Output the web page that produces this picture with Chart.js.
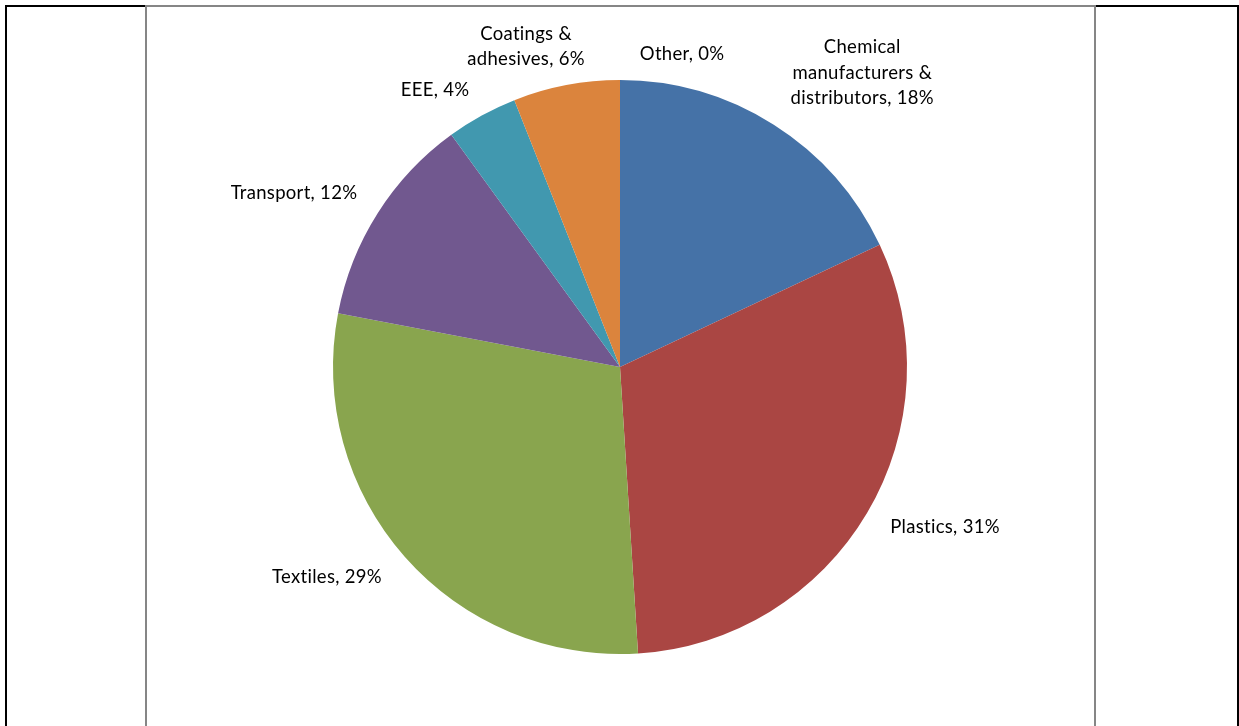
<!DOCTYPE html>
<html>
<head>
<meta charset="utf-8">
<title>Use by sector</title>
<script src="https://cdn.jsdelivr.net/npm/chart.js@4.4.1/dist/chart.umd.min.js"></script>
<style>
  html, body { margin: 0; padding: 0; background: #ffffff; }
  #wrap { position: relative; width: 1239px; height: 726px; overflow: hidden; }
  #chart { position: absolute; left: 0; top: 0; }
  .rule { position: absolute; }
  .black { background: #000000; }
  .grey { background: #868686; }
</style>
</head>
<body>
<div id="wrap">
  <canvas id="chart" width="1239" height="726"></canvas>
  <!-- table frame around the chart cell -->
  <div class="rule black" style="left:5px; top:5px; width:2px; height:721px;"></div>
  <div class="rule black" style="left:5px; top:5px; width:141px; height:2px;"></div>
  <div class="rule black" style="left:1094px; top:5px; width:145px; height:2px;"></div>
  <div class="rule black" style="left:1237px; top:5px; width:2px; height:721px;"></div>
  <div class="rule grey" style="left:145px; top:5px; width:951px; height:2px;"></div>
  <div class="rule grey" style="left:145px; top:5px; width:2px; height:721px;"></div>
  <div class="rule grey" style="left:1094px; top:5px; width:2px; height:721px;"></div>
</div>
<script>
// Sector names (label lines) and their shares in percent
const sectorLines = [
  ["Chemical", "manufacturers &", "distributors, 18%"],
  ["Plastics, 31%"],
  ["Textiles, 29%"],
  ["Transport, 12%"],
  ["EEE, 4%"],
  ["Coatings &", "adhesives, 6%"],
  ["Other, 0%"]
];
const sectors = ["Chemical manufacturers & distributors", "Plastics", "Textiles", "Transport", "EEE", "Coatings & adhesives", "Other"];
const shares = [18, 31, 29, 12, 4, 6, 0];

// Slice fills
const sliceColors = ["#4572A7", "#AA4643", "#89A54E", "#71588F", "#4198AF", "#DB843D", "#93A9CF"];

// Label placement around the pie: angular shift (degrees) from the slice's mid-angle
// and distance from the centre as a multiple of the pie radius
const labelShift = [7.0, -4.5, 5.9, -4.2, -4.9, -5.5, 11.2];
const labelReach = [1.330, 1.261, 1.254, 1.289, 1.161, 1.166, 1.115];

const LABEL_FONT = '18.5px Lato, "Open Sans", sans-serif';
const LINE_HEIGHT = 25.5;
const CAP_HALF = 6.7;

const outsideLabels = {
  id: 'outsideLabels',
  afterDatasetsDraw(chart) {
    const ctx = chart.ctx;
    const meta = chart.getDatasetMeta(0);
    ctx.save();
    ctx.font = LABEL_FONT;
    if ('letterSpacing' in ctx) ctx.letterSpacing = '0.3px';
    ctx.fillStyle = '#000000';
    ctx.textAlign = 'center';
    ctx.textBaseline = 'alphabetic';
    meta.data.forEach((arc, i) => {
      const p = arc.getProps(['x', 'y', 'startAngle', 'endAngle', 'outerRadius'], true);
      const mid = (p.startAngle + p.endAngle) / 2 + labelShift[i] * Math.PI / 180;
      const d = p.outerRadius * labelReach[i];
      const cx = p.x + d * Math.cos(mid);
      const cy = p.y + d * Math.sin(mid);
      const lines = sectorLines[i];
      const top = cy - (lines.length - 1) * LINE_HEIGHT / 2;
      lines.forEach((line, j) => {
        ctx.fillText(line, cx, top + j * LINE_HEIGHT + CAP_HALF);
      });
    });
    ctx.restore();
  }
};

new Chart(document.getElementById('chart'), {
  type: 'pie',
  data: {
    labels: sectors,
    datasets: [{
      data: shares,
      backgroundColor: sliceColors,
      borderWidth: 0
    }]
  },
  options: {
    responsive: false,
    animation: false,
    layout: { padding: { top: 80, bottom: 72, left: 333, right: 332 } },
    plugins: {
      legend: { display: false },
      tooltip: { enabled: false }
    }
  },
  plugins: [outsideLabels]
});
</script>
</body>
</html>
